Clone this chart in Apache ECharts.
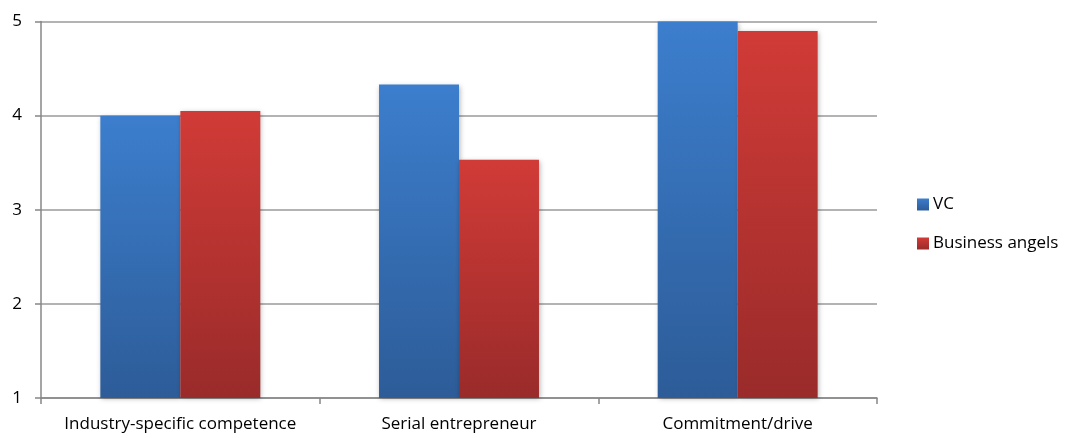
<!DOCTYPE html>
<html>
<head>
<meta charset="utf-8">
<script src="https://cdn.jsdelivr.net/npm/echarts@6/dist/echarts.min.js"></script>
<style>
  html, body { margin: 0; padding: 0; background: #fff; }
  #chart { width: 1078px; height: 438px; }
</style>
</head>
<body>
<div id="chart"></div>
<script>
// Ratings by criterion, two investor groups
const categories = ['Industry-specific competence', 'Serial entrepreneur', 'Commitment/drive'];
const seriesNames = ['VC', 'Business angels'];
const vcValues = [4.0, 4.33, 5.0];
const angelValues = [4.05, 3.53, 4.9];
const yTicks = [1, 2, 3, 4, 5];

const FONT = '"Open Sans", "Noto Sans", sans-serif';
const FONT_SIZE = 17;

function grad(top, bottom) {
  return new echarts.graphic.LinearGradient(0, 0, 0, 1, [
    { offset: 0, color: top },
    { offset: 1, color: bottom }
  ]);
}

const chart = echarts.init(document.getElementById('chart'), null, { renderer: 'canvas' });

chart.setOption({
  animation: false,
  backgroundColor: '#ffffff',
  grid: { left: 41, right: 201, top: 21.5, bottom: 40, containLabel: false },
  legend: {
    orient: 'vertical',
    left: 912,
    top: 191,
    itemWidth: 12,
    itemHeight: 12,
    itemGap: 22,
    icon: 'rect',
    textStyle: { fontFamily: FONT, fontSize: FONT_SIZE, color: '#000', padding: [0, 0, 0, -1] },
    data: seriesNames
  },
  xAxis: {
    type: 'category',
    data: categories,
    axisLine: { lineStyle: { color: '#878787', width: 1.5 } },
    axisTick: { show: true, interval: 0, length: 6, lineStyle: { color: '#878787', width: 1.5 } },
    axisLabel: { interval: 0, hideOverlap: false, fontFamily: FONT, fontSize: FONT_SIZE, color: '#000', margin: 18 }
  },
  yAxis: {
    type: 'value',
    min: yTicks[0],
    max: yTicks[yTicks.length - 1],
    interval: 1,
    axisLine: { show: true, lineStyle: { color: '#878787', width: 1.5 } },
    axisTick: { show: true, length: 6, lineStyle: { color: '#878787', width: 1.5 } },
    axisLabel: { fontFamily: FONT, fontSize: FONT_SIZE, color: '#000', margin: 19 },
    splitLine: { lineStyle: { color: '#9a9a9a', width: 1.5 } }
  },
  series: [
    {
      name: seriesNames[0],
      type: 'bar',
      data: vcValues,
      barGap: '0%',
      barCategoryGap: '42.6%',
      itemStyle: {
        color: grad('#3c7ecd', '#2d5c98'),
        shadowColor: 'rgba(0,0,0,0.3)',
        shadowBlur: 5,
        shadowOffsetX: 1,
        shadowOffsetY: 1
      }
    },
    {
      name: seriesNames[1],
      type: 'bar',
      data: angelValues,
      itemStyle: {
        color: grad('#d13b37', '#992b2a'),
        shadowColor: 'rgba(0,0,0,0.3)',
        shadowBlur: 5,
        shadowOffsetX: 1,
        shadowOffsetY: 1
      }
    }
  ]
});
</script>
</body>
</html>
